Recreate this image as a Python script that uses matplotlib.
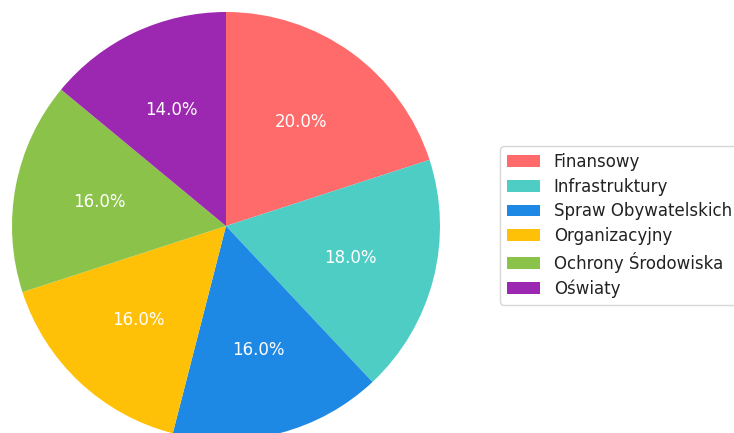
import matplotlib
matplotlib.use("Agg")
import matplotlib.pyplot as plt

categories = ["Finansowy", "Infrastruktury", "Spraw Obywatelskich",
              "Organizacyjny", "Ochrony Środowiska", "Oświaty"]
values = [20.0, 18.0, 16.0, 16.0, 16.0, 14.0]
colors = ["#FF6B6B", "#4ECDC4", "#1E88E5", "#FFC107", "#8BC34A", "#9C27B0"]

W, H = 734, 433
fig = plt.figure(figsize=(W / 100, H / 100), dpi=100)
cx, cy, r = 226, 433 - 226, 214
ax = fig.add_axes([(cx - r) / W, (cy - r) / H, 2 * r / W, 2 * r / H])
wedges, texts, autotexts = ax.pie(values, colors=colors, startangle=90, counterclock=False,
                                  autopct="%1.1f%%", pctdistance=0.6,
                                  textprops=dict(color="white", fontsize=12))
ax.set_xlim(-1, 1)
ax.set_ylim(-1, 1)
ax.set_aspect("equal")
ax.axis("off")

leg = fig.legend(wedges, categories, loc="center left",
                 bbox_to_anchor=(492 / W, (433 - 225.5) / H),
                 fontsize=12, frameon=True, labelspacing=0.4)
for t in leg.get_texts():
    t.set_color("#222222")

fig.savefig("out.png", dpi=100)
